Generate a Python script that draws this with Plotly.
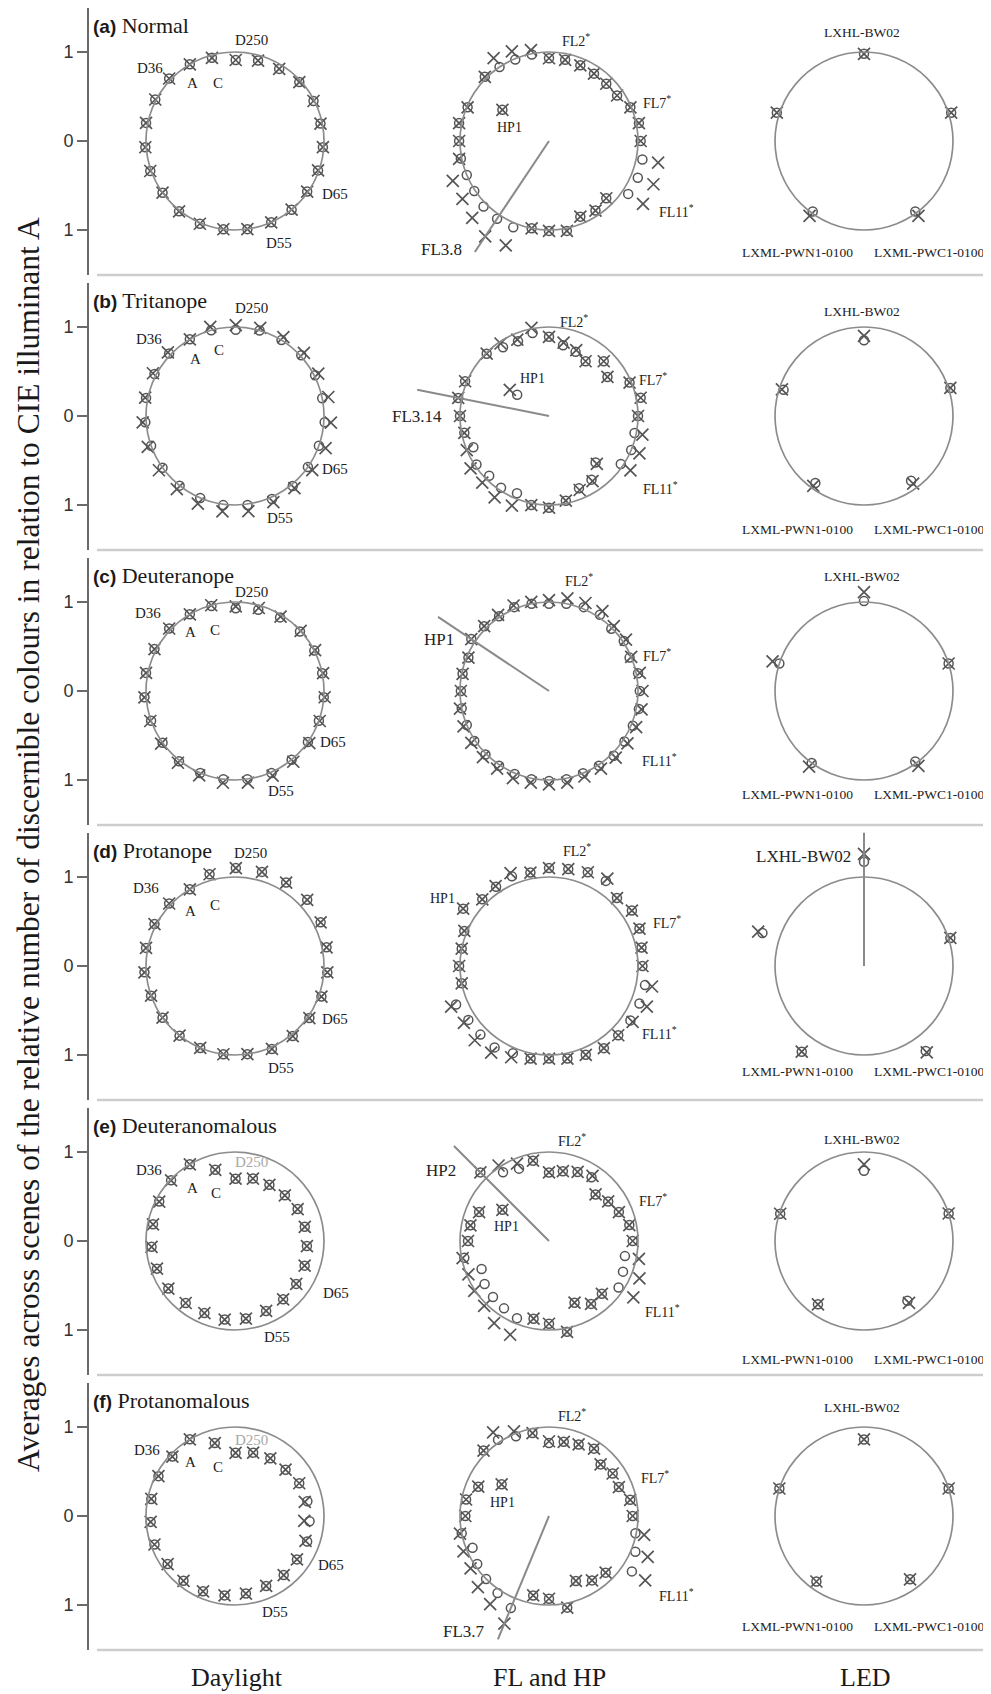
import numpy as np
import plotly.graph_objects as go

W, H = 991, 1694          # browser window
OFF = 8                   # default page margin of the html body
WF, HF = W - OFF, H - OFF # figure size

# ---------------- data ----------------
row_tags = ["(a)", "(b)", "(c)", "(d)", "(e)", "(f)"]
row_names = ["Normal", "Tritanope", "Deuteranope", "Protanope", "Deuteranomalous", "Protanomalous"]
column_names = ["Daylight", "FL and HP", "LED"]
y_tick_vals = [-1, 0, 1]
y_tick_text = ["1", "0", "1"]

# Daylight illuminants (23), angle in degrees
day_theta = [136.5, 120.5, 105.5, 89.5, 74.0, 58.5, 42.5, 27.0, 11.5, -4.0, -19.5, -35.0,
             -50.5, -66.0, -82.0, -97.5, -113.0, -128.5, -144.5, -160.5, -176.0, 168.5, 152.5]
day_o_a = [1.02, 1.0, 0.97, 0.91, 0.94, 0.95, 0.98, 0.99, 0.98, 0.99, 0.99, 0.99, 1.0, 1.0, 1.0, 1.0, 1.01, 1.01, 1.0, 1.01, 1.01, 1.02, 1.01]
day_x_a = [1.02, 1.0, 0.97, 0.91, 0.94, 0.95, 0.98, 0.99, 0.98, 0.99, 0.99, 0.99, 1.0, 1.0, 1.0, 1.0, 1.01, 1.01, 1.0, 1.01, 1.01, 1.02, 1.01]
day_o_b = [1.02, 1.0, 1.0, 0.97, 1.0, 1.0, 1.01, 1.01, 1.0, 1.01, 1.0, 1.0, 1.02, 1.02, 1.01, 1.01, 1.0, 1.0, 1.0, 1.0, 1.01, 1.02, 1.02]
day_x_b = [1.04, 1.0, 1.04, 1.02, 1.03, 1.04, 1.05, 1.05, 1.07, 1.08, 1.08, 1.06, 1.05, 1.06, 1.08, 1.08, 1.07, 1.05, 1.05, 1.04, 1.04, 1.03, 1.04]
day_o_c = [1.02, 1.0, 0.99, 0.93, 0.95, 0.97, 0.99, 1.0, 1.0, 1.0, 1.0, 1.0, 1.0, 1.01, 1.0, 1.0, 1.0, 1.01, 1.0, 1.0, 1.02, 1.02, 1.02]
day_x_c = [1.02, 1.0, 1.0, 0.95, 0.97, 0.98, 1.0, 1.01, 1.01, 1.01, 1.01, 1.02, 1.03, 1.04, 1.04, 1.04, 1.03, 1.03, 1.02, 1.01, 1.02, 1.02, 1.02]
day_o_d = [1.02, 1.0, 1.07, 1.1, 1.1, 1.1, 1.1, 1.08, 1.05, 1.04, 1.03, 1.02, 1.02, 1.02, 1.0, 1.0, 1.0, 1.0, 1.0, 1.0, 1.02, 1.02, 1.02]
day_x_d = [1.02, 1.0, 1.07, 1.1, 1.1, 1.1, 1.1, 1.08, 1.05, 1.04, 1.03, 1.02, 1.02, 1.02, 1.0, 1.0, 1.0, 1.0, 1.0, 1.0, 1.02, 1.02, 1.02]
day_o_e = [0.99, 1.0, 0.83, 0.7, 0.73, 0.74, 0.76, 0.79, 0.8, 0.81, 0.83, 0.84, 0.85, 0.86, 0.88, 0.89, 0.88, 0.89, 0.92, 0.93, 0.94, 0.94, 0.96]
day_x_e = [0.99, 1.0, 0.83, 0.7, 0.73, 0.74, 0.76, 0.79, 0.8, 0.81, 0.83, 0.84, 0.85, 0.86, 0.88, 0.89, 0.88, 0.89, 0.92, 0.93, 0.94, 0.94, 0.96]
day_o_f = [0.97, 1.0, 0.85, 0.71, 0.74, 0.76, 0.77, 0.81, 0.83, 0.84, 0.86, 0.85, 0.86, 0.86, 0.88, 0.9, 0.92, 0.93, 0.93, 0.96, 0.95, 0.96, 0.97]
day_x_f = [0.97, 1.0, 0.85, 0.71, 0.74, 0.76, 0.77, 0.81, 0.8, 0.78, 0.84, 0.85, 0.86, 0.86, 0.88, 0.9, 0.92, 0.93, 0.93, 0.96, 0.95, 0.96, 0.97]

# FL and HP lamps (32), angle in degrees
fl_theta = [146.25, 135, 123.75, 112.5, 101.25, 90, 78.75, 67.5, 56.25, 45, 33.75, 22.5, 11.25, 0,
            -11.25, -22.5, -33.75, -45, -56.25, -67.5, -78.75, -90, -101.25, -112.5, -123.75, -135,
            -146.25, -157.5, -168.75, 180, 168.75, 157.5]
fl_o_a = [0.63, 1.02, 1.0, 0.99, 0.99, 0.93, 0.93, 0.92, 0.91, 0.91, 0.92, 0.99, 1.03, 1.03, 1.07, 1.08, 1.07, 0.91, 0.94, 0.92, 1.03, 1.01, 1.0, 1.05, 1.05, 1.04, 1.01, 1.0, 1.01, 1.01, 1.03, 0.99]
fl_x_a = [0.63, 1.02, 1.12, 1.09, 1.04, 0.93, 0.93, 0.92, 0.91, 0.91, 0.92, 0.99, 1.03, 1.03, 1.25, 1.27, 1.27, 0.91, 0.94, 0.92, 1.03, 1.01, 1.0, 1.27, 1.29, 1.22, 1.17, 1.17, 1.03, 1.01, 1.03, 0.99]
fl_o_b = [0.43, 0.99, 0.93, 0.91, 0.95, 0.89, 0.81, 0.78, 0.74, 0.87, 0.79, 0.98, 1.05, 1.0, 0.98, 1.0, 0.97, 0.74, 0.86, 0.88, 0.97, 1.03, 1.02, 0.94, 0.97, 0.95, 0.98, 0.92, 0.97, 1.0, 1.04, 1.02]
fl_x_b = [0.53, 0.99, 0.98, 0.93, 1.01, 0.89, 0.84, 0.8, 0.74, 0.87, 0.79, 0.98, 1.05, 1.0, 1.07, 1.1, 1.1, 0.76, 0.88, 0.9, 0.97, 1.03, 1.02, 1.09, 1.1, 1.06, 1.06, 1.0, 0.97, 1.0, 1.04, 1.02]
fl_o_c = [1.05, 1.03, 1.01, 1.02, 1.0, 0.98, 1.0, 1.02, 1.03, 0.99, 1.01, 0.98, 1.02, 1.02, 1.03, 1.02, 1.02, 1.03, 1.01, 1.0, 1.01, 1.01, 1.01, 1.01, 1.01, 1.01, 1.01, 1.0, 1.0, 0.99, 0.99, 0.98]
fl_x_c = [1.05, 1.03, 1.03, 1.04, 1.02, 1.02, 1.06, 1.07, 1.08, 1.03, 1.04, 1.0, 1.04, 1.05, 1.06, 1.06, 1.06, 1.06, 1.05, 1.04, 1.05, 1.05, 1.05, 1.06, 1.05, 1.05, 1.05, 1.04, 1.02, 0.99, 0.99, 0.98]
fl_o_d = [1.16, 1.06, 1.07, 1.09, 1.07, 1.1, 1.11, 1.14, 1.15, 1.08, 1.12, 1.1, 1.06, 1.05, 1.1, 1.1, 1.1, 1.1, 1.11, 1.08, 1.06, 1.04, 1.06, 1.06, 1.1, 1.09, 1.09, 1.13, 1.0, 1.01, 1.0, 1.03]
fl_x_d = [1.16, 1.06, 1.08, 1.13, 1.07, 1.1, 1.11, 1.14, 1.18, 1.08, 1.12, 1.1, 1.06, 1.05, 1.18, 1.19, 1.13, 1.1, 1.11, 1.08, 1.06, 1.04, 1.06, 1.11, 1.17, 1.18, 1.15, 1.19, 1.0, 1.01, 1.0, 1.03]
fl_o_e = [0.63, 1.09, 0.93, 0.88, 0.92, 0.77, 0.8, 0.84, 0.86, 0.74, 0.8, 0.85, 0.92, 0.94, 0.87, 0.9, 0.94, 0.84, 0.85, 0.75, 1.04, 0.93, 0.89, 0.94, 0.91, 0.89, 0.87, 0.82, 0.97, 0.91, 0.9, 0.85]
fl_x_e = [0.63, 1.09, 1.02, 0.94, 0.92, 0.77, 0.8, 0.84, 0.88, 0.74, 0.8, 0.85, 0.92, 0.94, 1.03, 1.1, 1.14, 0.84, 0.85, 0.75, 1.04, 0.93, 0.89, 1.14, 1.11, 1.03, 1.01, 0.98, 0.99, 0.91, 0.9, 0.85]
fl_o_f = [0.64, 1.04, 1.03, 0.97, 0.95, 0.82, 0.85, 0.87, 0.91, 0.82, 0.86, 0.85, 0.93, 0.94, 0.99, 1.05, 1.12, 0.9, 0.87, 0.79, 1.05, 0.93, 0.91, 1.12, 1.04, 1.0, 0.97, 0.93, 1.0, 0.94, 0.95, 0.86]
fl_x_f = [0.64, 1.04, 1.13, 1.03, 0.95, 0.84, 0.85, 0.87, 0.91, 0.82, 0.86, 0.85, 0.93, 0.94, 1.09, 1.2, 1.3, 0.9, 0.87, 0.79, 1.05, 0.93, 0.91, 1.31, 1.19, 1.13, 1.06, 1.04, 1.02, 0.94, 0.95, 0.86]

# LED lamps (5): LXHL-BW02 top, then clockwise
led_theta = [90, 18, -54, -126, 162]
led_o_a = [0.98, 1.03, 0.98, 0.98, 1.03]
led_x_a = [0.98, 1.03, 1.04, 1.04, 1.03]
led_o_b = [0.85, 1.02, 0.9, 0.93, 0.95]
led_x_b = [0.9, 1.02, 0.94, 0.97, 0.97]
led_o_c = [1.01, 1.0, 0.98, 1.0, 1.0]
led_x_c = [1.11, 1.0, 1.04, 1.05, 1.08]
led_o_d = [1.17, 1.02, 1.18, 1.19, 1.2]
led_x_d = [1.26, 1.02, 1.2, 1.19, 1.25]
led_o_e = [0.79, 1.0, 0.83, 0.88, 0.99]
led_x_e = [0.86, 1.0, 0.86, 0.88, 0.99]
led_o_f = [0.86, 1.0, 0.88, 0.91, 1.0]
led_x_f = [0.86, 1.0, 0.88, 0.91, 1.0]

# highlighted lamp per panel: (row, column, angle, length, label)
highlight_rows = [0, 1, 2, 4, 5, 3]
highlight_cols = [1, 1, 1, 1, 1, 2]
highlight_theta = [-123.75, 168.75, 146.25, 135, -112.5, 90]
highlight_len = [1.5, 1.51, 1.5, 1.51, 1.5, 1.5]
highlight_text = ["FL3.8", "FL3.14", "HP1", "HP2", "FL3.7", "LXHL-BW02"]

daylight_o = [day_o_a, day_o_b, day_o_c, day_o_d, day_o_e, day_o_f]
daylight_x = [day_x_a, day_x_b, day_x_c, day_x_d, day_x_e, day_x_f]
fl_o = [fl_o_a, fl_o_b, fl_o_c, fl_o_d, fl_o_e, fl_o_f]
fl_x = [fl_x_a, fl_x_b, fl_x_c, fl_x_d, fl_x_e, fl_x_f]
led_o = [led_o_a, led_o_b, led_o_c, led_o_d, led_o_e, led_o_f]
led_x = [led_x_a, led_x_b, led_x_c, led_x_d, led_x_e, led_x_f]
thetas = [day_theta, fl_theta, led_theta]
series_o = [daylight_o, fl_o, led_o]
series_x = [daylight_x, fl_x, led_x]

# ---------------- layout geometry (page pixels) ----------------
ROW_CY = [141, 416, 691, 966, 1241, 1516]
COL_CX = [235, 549, 864]
S = 133.5
RNG = 1.5
PPU = S / RNG
SERIF = "Liberation Serif, Times New Roman, serif"
SANS = "Liberation Sans, Arial, sans-serif"
MARK = "#555555"
CIRC = "#8c8c8c"


def px_x(px):
    return min(max((px - OFF) / WF, 0.0), 1.0)


def px_y(py):
    return min(max(1 - (py - OFF) / HF, 0.0), 1.0)


def ax(n):
    return "" if n == 1 else str(n)


def pol(theta, r):
    t = np.radians(np.asarray(theta, float))
    r = np.asarray(r, float)
    return r * np.cos(t), r * np.sin(t)


fig = go.Figure()
layout = dict(width=WF, height=HF, margin=dict(l=0, r=0, t=0, b=0),
              paper_bgcolor="white", plot_bgcolor="rgba(0,0,0,0)", showlegend=False)
shapes = []
annotations = []


def ann(n, x, y, text, size=14, anchor="center", color="#222"):
    annotations.append(dict(xref="x" + ax(n), yref="y" + ax(n), x=x, y=y, text=text,
                            showarrow=False, xanchor=anchor, yanchor="middle",
                            font=dict(family=SERIF, size=size, color=color)))


for r in range(6):
    cy = ROW_CY[r]
    for c in range(3):
        cx = COL_CX[c]
        n = r * 3 + c + 1
        d0 = max(cx - S, OFF)
        d1 = min(cx + S, W)
        top = max(cy - S, OFF)
        bot = min(cy + S, H)
        layout["xaxis" + ax(n)] = dict(domain=[px_x(d0), px_x(d1)],
                                       range=[(d0 - cx) / PPU, (d1 - cx) / PPU],
                                       visible=False, anchor="y" + ax(n), fixedrange=True)
        yd = dict(domain=[px_y(bot), px_y(top)], range=[(cy - bot) / PPU, (cy - top) / PPU],
                  anchor="x" + ax(n), fixedrange=True, showgrid=False, zeroline=False)
        if c == 0:
            yd.update(visible=True, showline=True, linecolor="#6a6a6a", linewidth=2,
                      ticks="outside", ticklen=10, tickwidth=2, tickcolor="#6a6a6a",
                      tickvals=y_tick_vals, ticktext=y_tick_text,
                      tickfont=dict(family=SANS, size=18, color="#333"),
                      anchor="free", position=px_x(88))
        else:
            yd.update(visible=False)
        layout["yaxis" + ax(n)] = yd

        shapes.append(dict(type="circle", xref="x" + ax(n), yref="y" + ax(n),
                           x0=-1, y0=-1, x1=1, y1=1, line=dict(color=CIRC, width=1.7)))

        xo, yo = pol(thetas[c], series_o[c][r])
        xx, yx = pol(thetas[c], series_x[c][r])
        fig.add_trace(go.Scatter(x=xo, y=yo, mode="markers", xaxis="x" + ax(n), yaxis="y" + ax(n),
                                 cliponaxis=False, hoverinfo="skip",
                                 marker=dict(symbol="circle-open", size=9, color=MARK,
                                             line=dict(width=1.5, color=MARK))))
        fig.add_trace(go.Scatter(x=xx, y=yx, mode="markers", xaxis="x" + ax(n), yaxis="y" + ax(n),
                                 cliponaxis=False, hoverinfo="skip",
                                 marker=dict(symbol="x-thin-open", size=12, color=MARK,
                                             line=dict(width=1.7, color=MARK))))

    # row separator
    yb = px_y(cy + S + 0.5)
    shapes.append(dict(type="line", xref="paper", yref="paper", x0=px_x(97), x1=px_x(990),
                       y0=yb, y1=yb, line=dict(color="#cdcdcd", width=2.5)))
    # row title
    annotations.append(dict(xref="paper", yref="paper", x=px_x(91), y=px_y(cy - 116),
                            xanchor="left", yanchor="middle", showarrow=False,
                            text="<b><span style='font-family:Liberation Sans, Arial;font-size:19px'>"
                                 + row_tags[r] + "</span></b> " + row_names[r],
                            font=dict(family=SERIF, size=22, color="#1a1a1a")))

# highlight lines
for i in range(len(highlight_theta)):
    n = highlight_rows[i] * 3 + highlight_cols[i] + 1
    lx, ly = pol([0, highlight_theta[i]], [0, highlight_len[i]])
    fig.add_trace(go.Scatter(x=lx, y=ly, mode="lines", xaxis="x" + ax(n), yaxis="y" + ax(n),
                             cliponaxis=False, hoverinfo="skip",
                             line=dict(color="#8a8a8a", width=2)))

# ---- daylight labels ----
day_label_pos = [
    [(-0.96, 0.82), (-0.48, 0.65), (-0.19, 0.65), (0.19, 1.13), (1.12, -0.6), (0.49, -1.15)],
    [(-0.97, 0.87), (-0.44, 0.64), (-0.18, 0.74), (0.18, 1.21), (1.12, -0.6), (0.5, -1.15)],
    [(-0.98, 0.88), (-0.5, 0.66), (-0.23, 0.68), (0.19, 1.11), (1.1, -0.57), (0.52, -1.12)],
    [(-1.0, 0.88), (-0.5, 0.62), (-0.22, 0.68), (0.17, 1.27), (1.12, -0.6), (0.52, -1.15)],
    [(-0.97, 0.8), (-0.48, 0.6), (-0.21, 0.54), (0.19, 0.89), (1.13, -0.58), (0.47, -1.08)],
    [(-0.99, 0.74), (-0.5, 0.61), (-0.19, 0.55), (0.19, 0.85), (1.08, -0.55), (0.45, -1.08)],
]
day_label_text = ["D36", "A", "C", "D250", "D65", "D55"]
for r in range(6):
    n = r * 3 + 1
    for j, t in enumerate(day_label_text):
        col = "#a8a8a8" if (t == "D250" and r >= 4) else "#222"
        ann(n, day_label_pos[r][j][0], day_label_pos[r][j][1], t, size=15, color=col)

# ---- FL labels ----
fl_small = [
    [(0.3, 1.13), (1.21, 0.44), (1.43, -0.79), (-0.44, 0.15)],
    [(0.28, 1.07), (1.17, 0.42), (1.25, -0.81), (-0.19, 0.42)],
    [(0.34, 1.25), (1.21, 0.4), (1.24, -0.77), None],
    [(0.31, 1.3), (1.33, 0.49), (1.24, -0.75), (-1.2, 0.76)],
    [(0.26, 1.14), (1.17, 0.46), (1.27, -0.79), (-0.48, 0.16)],
    [(0.26, 1.13), (1.19, 0.44), (1.43, -0.89), (-0.52, 0.15)],
]
fl_small_text = ["FL2<sup>*</sup>", "FL7<sup>*</sup>", "FL11<sup>*</sup>", "HP1"]
for r in range(6):
    n = r * 3 + 2
    for j, t in enumerate(fl_small_text):
        p = fl_small[r][j]
        if p is not None:
            ann(n, p[0], p[1], t, size=14)

big_pos = [(-0.96, -1.22), (-1.18, 0.0), (-1.04, 0.58), (-1.02, 0.79), (-0.7, -1.3), (-0.12, 1.23)]
for i in range(len(highlight_text)):
    n = highlight_rows[i] * 3 + highlight_cols[i] + 1
    ann(n, big_pos[i][0], big_pos[i][1], highlight_text[i], size=17, anchor="right")

# ---- LED labels ----
led_top_y = [1.22, 1.17, 1.29, None, 1.14, 1.22]
led_bot_y = [-1.25, -1.28, -1.16, -1.19, -1.33, -1.24]
for r in range(6):
    n = r * 3 + 3
    if led_top_y[r] is not None:
        ann(n, -0.02, led_top_y[r], "LXHL-BW02", size=13.5)
    ann(n, -0.75, led_bot_y[r], "LXML-PWN1-0100", size=13.5)
    ann(n, 0.73, led_bot_y[r], "LXML-PWC1-0100", size=13.5)

# column labels
for c in range(3):
    annotations.append(dict(xref="paper", yref="paper", x=px_x([237, 549, 865][c]), y=px_y(1677),
                            xanchor="center", yanchor="middle", showarrow=False,
                            text=column_names[c], font=dict(family=SERIF, size=26, color="#1a1a1a")))

# y title
annotations.append(dict(xref="paper", yref="paper", x=px_x(28), y=px_y(845), textangle=-90,
                        xanchor="center", yanchor="middle", showarrow=False,
                        text="Averages across scenes of the relative number of discernible colours in relation to CIE illuminant A",
                        font=dict(family=SERIF, size=31.5, color="#1a1a1a")))

layout["shapes"] = shapes
layout["annotations"] = annotations
fig.update_layout(**layout)
fig.write_html("out.html")
